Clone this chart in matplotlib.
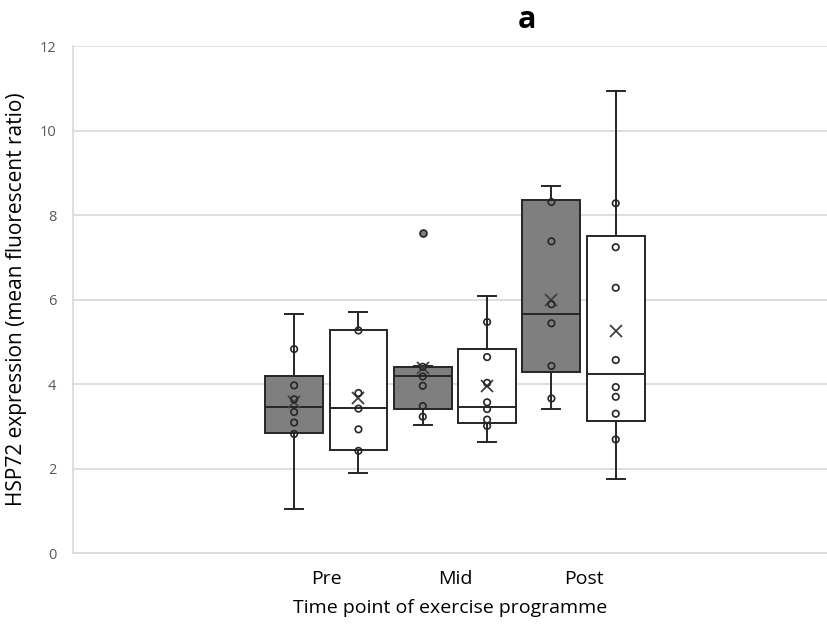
import matplotlib
matplotlib.use("Agg")
import matplotlib.pyplot as plt

plt.rcParams["font.family"] = ["Open Sans", "DejaVu Sans"]

groups = ["Pre", "Mid", "Post"]

# grey (filled) series
grey_whislo = [1.05, 3.03, 3.40]
grey_q1 = [2.84, 3.41, 4.28]
grey_med = [3.46, 4.20, 5.67]
grey_q3 = [4.20, 4.40, 8.35]
grey_whishi = [5.67, 4.43, 8.69]
grey_mean = [3.57, 4.38, 6.00]
grey_points = [
    [4.83, 3.97, 3.64, 3.34, 3.09, 2.82],
    [4.41, 4.18, 3.96, 3.48, 3.23],
    [8.31, 7.38, 5.89, 5.44, 4.43, 3.66],
]
grey_outliers = [[], [7.58], []]

# white series
white_whislo = [1.89, 2.63, 1.75]
white_q1 = [2.45, 3.07, 3.13]
white_med = [3.44, 3.47, 4.24]
white_q3 = [5.27, 4.84, 7.51]
white_whishi = [5.71, 6.08, 10.93]
white_mean = [3.66, 3.96, 5.25]
white_points = [
    [5.27, 3.79, 3.42, 2.93, 2.42],
    [5.47, 4.64, 4.03, 3.57, 3.41, 3.16, 3.01],
    [8.28, 7.24, 6.28, 4.57, 3.93, 3.70, 3.30, 2.69],
]
white_outliers = [[], [], []]

EDGE = "#262626"


def make_stats(lo, q1, med, q3, hi, mean, outl):
    return [
        dict(whislo=lo[i], q1=q1[i], med=med[i], q3=q3[i], whishi=hi[i],
             mean=mean[i], fliers=outl[i])
        for i in range(len(lo))
    ]


fig = plt.figure(figsize=(8.28, 6.25), dpi=100)
ax = fig.add_axes([0.088, 0.115, 0.912, 0.8112])

series = [
    (make_stats(grey_whislo, grey_q1, grey_med, grey_q3, grey_whishi, grey_mean, grey_outliers),
     grey_points, "#7f7f7f", -0.25),
    (make_stats(white_whislo, white_q1, white_med, white_q3, white_whishi, white_mean, white_outliers),
     white_points, "white", 0.25),
]

for stats, pts, face, off in series:
    pos = [i + 1 + off for i in range(len(groups))]
    ax.bxp(stats, positions=pos, widths=0.45, patch_artist=True, showmeans=True,
           capwidths=0.14,
           boxprops=dict(facecolor=face, edgecolor=EDGE, linewidth=1.4),
           medianprops=dict(color=EDGE, linewidth=1.4),
           whiskerprops=dict(color=EDGE, linewidth=1.4),
           capprops=dict(color=EDGE, linewidth=1.4),
           meanprops=dict(marker="x", markeredgecolor="#404040", markersize=9,
                          markeredgewidth=1.3),
           flierprops=dict(marker="o", markerfacecolor=face, markeredgecolor=EDGE,
                           markersize=5, markeredgewidth=1.2),
           zorder=3)
    for p, vals in zip(pos, pts):
        ax.scatter([p] * len(vals), vals, s=22, facecolors="none",
                   edgecolors=EDGE, linewidths=1.2, zorder=4)

ax.set_xlim(-0.97, 4.90)
ax.set_ylim(0, 12)
ax.set_yticks(range(0, 13, 2))
ax.set_xticks(range(1, len(groups) + 1))
ax.set_xticklabels(groups)
ax.grid(axis="y", color="#d9d9d9", linewidth=1.2, zorder=0)
ax.set_axisbelow(True)
for side in ["top", "right"]:
    ax.spines[side].set_visible(False)
for side in ["left", "bottom"]:
    ax.spines[side].set_color("#d9d9d9")
    ax.spines[side].set_linewidth(1.2)
ax.tick_params(axis="both", length=0)
ax.tick_params(axis="y", labelsize=10.5, labelcolor="#595959", pad=12)
ax.tick_params(axis="x", labelsize=14, labelcolor="black", pad=12)
ax.set_xlabel("Time point of exercise programme", fontsize=14, labelpad=8)
ax.set_ylabel("HSP72 expression (mean fluorescent ratio)", fontsize=15, labelpad=9)

fig.text(0.636, 0.968, "a", fontsize=22, fontweight="bold", ha="center", va="center")

fig.savefig("out.png", dpi=100)
